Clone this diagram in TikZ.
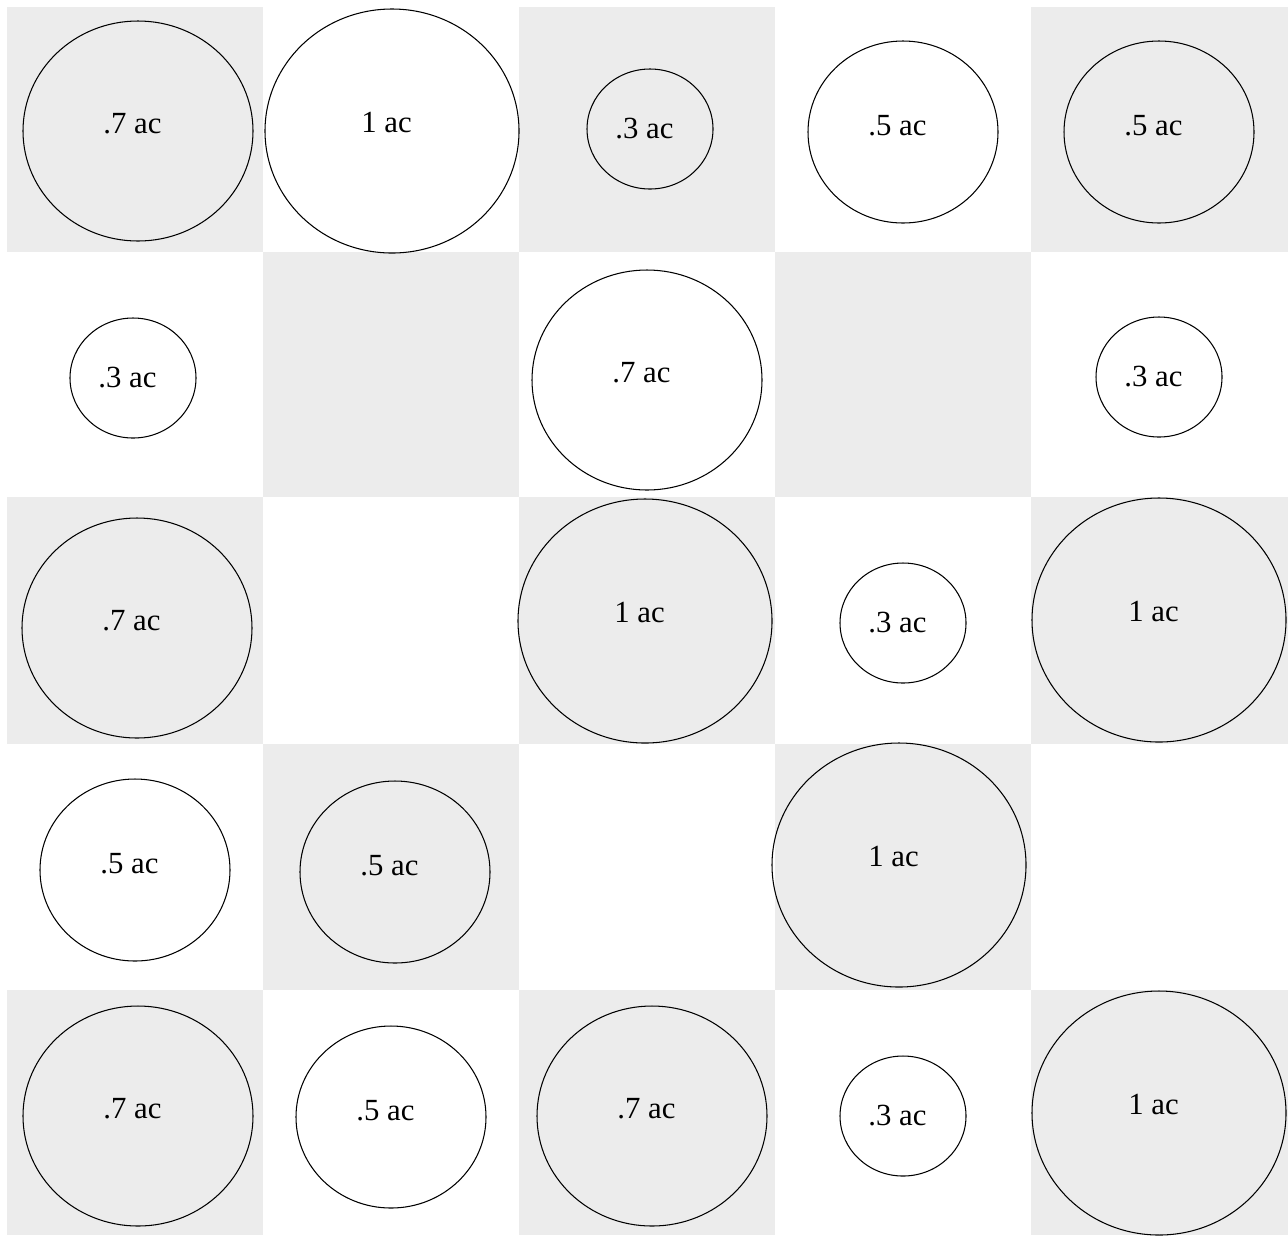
\documentclass[tikz,border=0pt]{standalone}
\usepackage{fontspec}
\setmainfont{Liberation Serif}
\usetikzlibrary{shapes.geometric}
\definecolor{cellgray}{RGB}{236,236,236}
\tikzset{
  cell/.style={fill=cellgray, draw=none},
  parcel/.style={draw, ellipse, line width=0.6pt, inner sep=0pt},
  tag/.style={font=\fontsize{17.5}{20}\selectfont, inner sep=0pt, xshift=-1.1mm},
  acone/.style={parcel, minimum width=50.8mm, minimum height=48.8mm,
    label={[tag, yshift=1.7mm]center:#1}},
  acseven/.style={parcel, minimum width=46mm, minimum height=44mm,
    label={[tag, yshift=1.4mm]center:#1}},
  acfive/.style={parcel, minimum width=38mm, minimum height=36.4mm,
    label={[tag, yshift=1.3mm]center:#1}},
  acthree/.style={parcel, minimum width=25.2mm, minimum height=24mm,
    label={[tag, yshift=0.1mm]center:#1}}
}
\begin{document}
\begin{tikzpicture}[x=0.2mm, y=-0.2mm]

\useasboundingbox (0,0) rectangle (1288,1235);

% ---------- Checkerboard ----------
\fill[cell] (7,7)      rectangle (263,252);
\fill[cell] (519,7)    rectangle (775,252);
\fill[cell] (1031,7)   rectangle (1288,252);
\fill[cell] (263,252)  rectangle (519,497);
\fill[cell] (775,252)  rectangle (1031,497);
\fill[cell] (7,497)    rectangle (263,744);
\fill[cell] (519,497)  rectangle (775,744);
\fill[cell] (1031,497) rectangle (1288,744);
\fill[cell] (263,744)  rectangle (519,990);
\fill[cell] (775,744)  rectangle (1031,990);
\fill[cell] (7,990)    rectangle (263,1235);
\fill[cell] (519,990)  rectangle (775,1235);
\fill[cell] (1031,990) rectangle (1288,1235);

% ---------- Row 1 ----------
\node[acseven={.7 ac}] (p11) at (138,131)  {};
\node[acone={1 ac}]    (p12) at (392,131)  {};
\node[acthree={.3 ac}] (p13) at (650,129)  {};
\node[acfive={.5 ac}]  (p14) at (903,132)  {};
\node[acfive={.5 ac}]  (p15) at (1159,132) {};

% ---------- Row 2 ----------
\node[acthree={.3 ac}] (p21) at (133,378)  {};
\node[acseven={.7 ac}] (p23) at (647,380)  {};
\node[acthree={.3 ac}] (p25) at (1159,377) {};

% ---------- Row 3 ----------
\node[acseven={.7 ac}] (p31) at (137,628)  {};
\node[acone={1 ac}]    (p33) at (645,621)  {};
\node[acthree={.3 ac}] (p34) at (903,623)  {};
\node[acone={1 ac}]    (p35) at (1159,620) {};

% ---------- Row 4 ----------
\node[acfive={.5 ac}]  (p41) at (135,870)  {};
\node[acfive={.5 ac}]  (p42) at (395,872)  {};
\node[acone={1 ac}]    (p44) at (899,865)  {};

% ---------- Row 5 ----------
\node[acseven={.7 ac}] (p51) at (138,1116) {};
\node[acfive={.5 ac}]  (p52) at (391,1117) {};
\node[acseven={.7 ac}] (p53) at (652,1116) {};
\node[acthree={.3 ac}] (p54) at (903,1116) {};
\node[acone={1 ac}]    (p55) at (1159,1113) {};

\end{tikzpicture}
\end{document}
